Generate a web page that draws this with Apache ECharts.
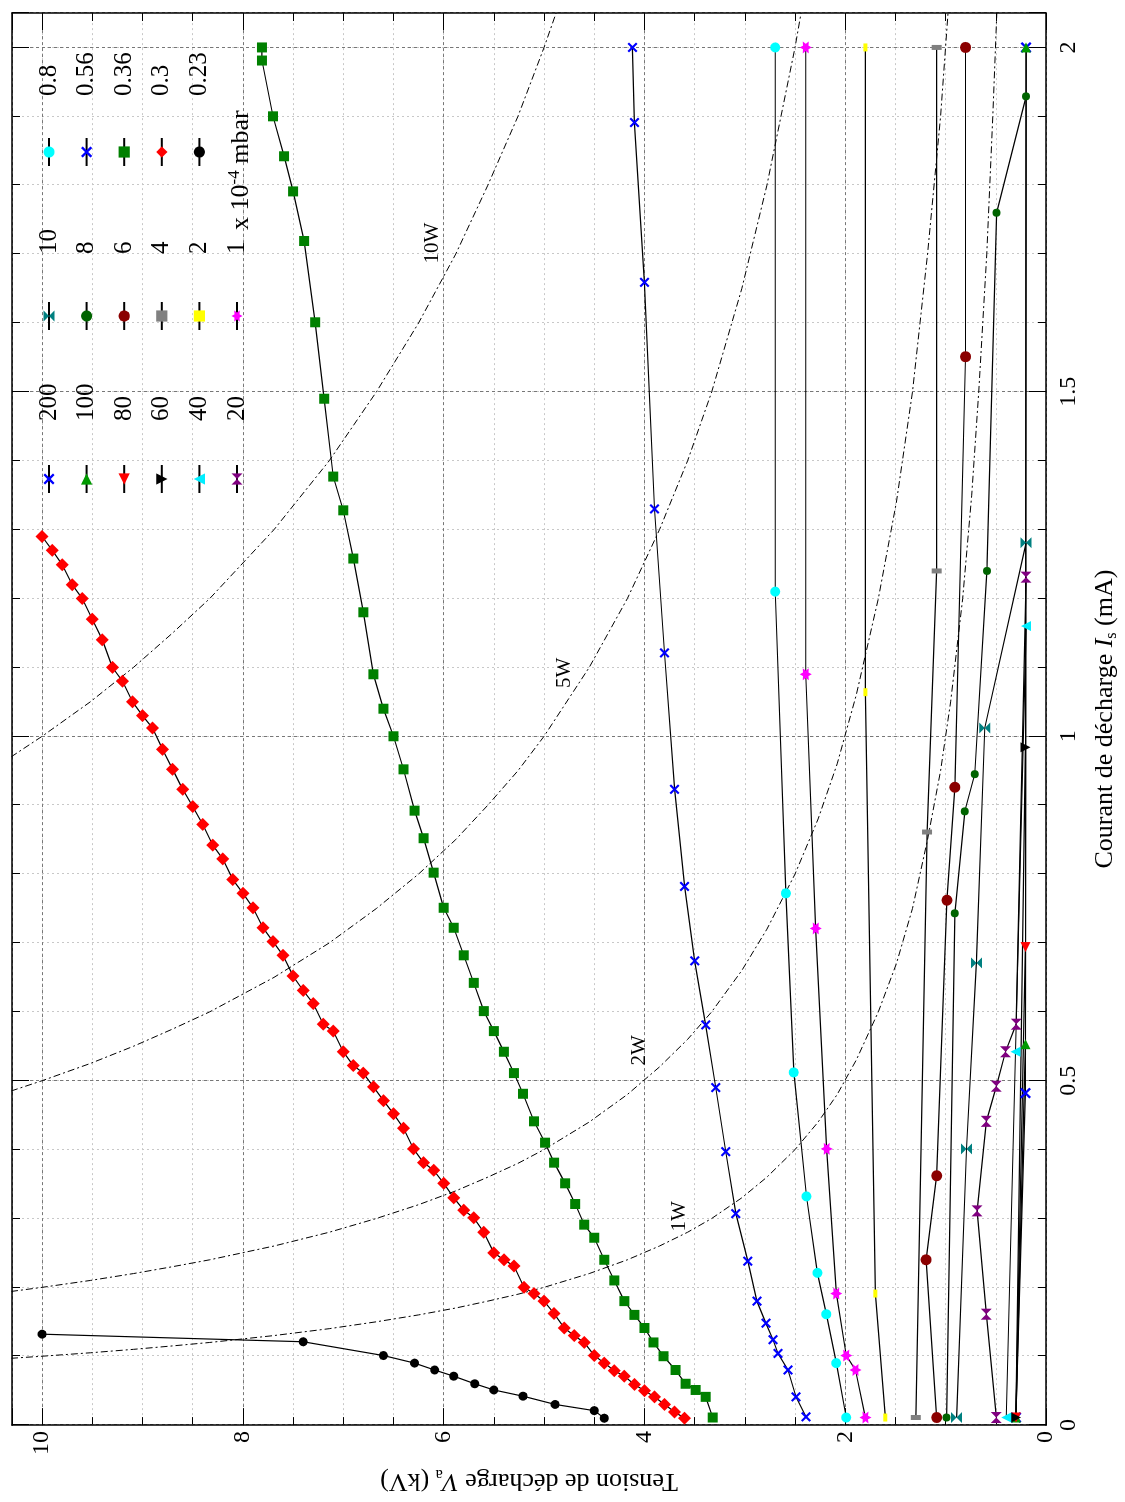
<!DOCTYPE html>
<html><head><meta charset="utf-8">
<script src="https://cdn.jsdelivr.net/npm/echarts@6/dist/echarts.min.js"></script>
<style>
html,body{margin:0;padding:0;width:1125px;height:1502px;overflow:hidden;background:#fff;}
#chart{position:absolute;left:0;top:0;width:1502px;height:1125px;transform-origin:0 0;transform:translateY(1502px) rotate(-90deg);background:#fff;}
</style></head><body><div id="chart"></div>
<script>
// ---- data: [current I (mA), voltage V (kV)] ----
const p200 = [[0.011,0.30],[0.482,0.205],[2.0,0.198]];
const p100 = [[0.011,0.30],[0.553,0.205],[2.0,0.198]];
const p80  = [[0.011,0.30],[0.694,0.205]];
const p60  = [[0.011,0.30],[0.984,0.205]];
const p40  = [[0.011,0.396],[0.542,0.304],[1.160,0.198]];
const p20  = [[0.011,0.495],[0.161,0.594],[0.311,0.687],[0.441,0.594],[0.492,0.495],[0.542,0.403],[0.582,0.297],[1.231,0.198]];
const p10  = [[0.011,0.891],[0.401,0.792],[0.671,0.693],[1.012,0.61],[1.281,0.198]];
const p8   = [[0.011,0.990],[0.743,0.908],[0.891,0.809],[0.945,0.71],[1.240,0.588],[1.760,0.492],[1.929,0.198]];
const p6   = [[0.011,1.089],[0.240,1.195],[0.362,1.089],[0.762,0.987],[0.926,0.908],[1.551,0.802],[2.0,0.802]];
const p4   = [[0.011,1.297],[0.861,1.185],[1.240,1.089],[2.0,1.089]];
const p2   = [[0.011,1.601],[0.191,1.700],[1.064,1.799],[2.0,1.799]];
const p1   = [[0.011,1.799],[0.080,1.898],[0.101,1.990],[0.191,2.089],[0.401,2.185],[0.721,2.294],[1.090,2.393],[2.0,2.393]];
const p08  = [[0.011,1.990],[0.090,2.089],[0.161,2.188],[0.221,2.277],[0.332,2.386],[0.512,2.512],[0.772,2.591],[1.210,2.697],[2.0,2.697]];
const p056 = [[0.012,2.39],[0.041,2.49],[0.080,2.57],[0.104,2.67],[0.124,2.72],[0.148,2.79],[0.180,2.88],[0.238,2.97],[0.307,3.09],[0.397,3.19],[0.490,3.29],[0.581,3.39],[0.674,3.50],[0.782,3.60],[0.923,3.70],[1.121,3.80],[1.330,3.90],[1.659,4.00],[1.891,4.10],[2.000,4.12]];
const p036 = [[0.011,3.32],[0.041,3.39],[0.051,3.49],[0.060,3.59],[0.080,3.69],[0.100,3.81],[0.120,3.91],[0.141,4.00],[0.160,4.10],[0.180,4.20],[0.210,4.30],[0.240,4.40],[0.272,4.50],[0.291,4.60],[0.321,4.69],[0.351,4.79],[0.381,4.90],[0.410,4.99],[0.441,5.10],[0.481,5.21],[0.511,5.30],[0.542,5.40],[0.572,5.50],[0.601,5.60],[0.642,5.70],[0.682,5.80],[0.722,5.90],[0.751,6.00],[0.802,6.10],[0.852,6.20],[0.892,6.29],[0.952,6.40],[1.000,6.50],[1.040,6.60],[1.090,6.70],[1.180,6.80],[1.258,6.90],[1.328,7.00],[1.377,7.10],[1.490,7.19],[1.601,7.28],[1.719,7.39],[1.791,7.50],[1.842,7.59],[1.900,7.70],[1.981,7.81],[2.000,7.81]];
const p03  = [[0.010,3.6],[0.019,3.7],[0.030,3.8],[0.041,3.9],[0.050,4.0],[0.059,4.1],[0.071,4.2],[0.079,4.3],[0.090,4.4],[0.101,4.5],[0.120,4.6],[0.130,4.7],[0.141,4.8],[0.162,4.9],[0.180,5.0],[0.191,5.1],[0.200,5.2],[0.231,5.3],[0.240,5.4],[0.250,5.5],[0.280,5.6],[0.301,5.7],[0.312,5.8],[0.330,5.9],[0.351,6.0],[0.370,6.1],[0.381,6.2],[0.401,6.3],[0.431,6.4],[0.452,6.5],[0.471,6.6],[0.491,6.7],[0.511,6.8],[0.522,6.9],[0.542,7.0],[0.572,7.1],[0.582,7.2],[0.612,7.3],[0.631,7.4],[0.652,7.5],[0.682,7.6],[0.702,7.7],[0.722,7.8],[0.751,7.9],[0.772,8.0],[0.792,8.1],[0.822,8.2],[0.842,8.3],[0.872,8.4],[0.898,8.5],[0.923,8.6],[0.952,8.7],[0.981,8.8],[1.012,8.9],[1.030,9.0],[1.050,9.1],[1.080,9.2],[1.100,9.3],[1.140,9.4],[1.170,9.5],[1.200,9.6],[1.220,9.7],[1.249,9.8],[1.270,9.9],[1.290,10.0]];
const p023 = [[0.010,4.40],[0.021,4.50],[0.030,4.89],[0.042,5.21],[0.051,5.50],[0.060,5.69],[0.071,5.90],[0.080,6.09],[0.090,6.29],[0.101,6.60],[0.121,7.40],[0.132,10.0]];
// constant-power reference curves
const w1  = [[0.097,10.31],[0.1,10],[0.105,9.52],[0.11,9.09],[0.115,8.70],[0.12,8.33],[0.13,7.69],[0.14,7.14],[0.15,6.67],[0.16,6.25],[0.17,5.88],[0.18,5.56],[0.19,5.26],[0.2,5],[0.22,4.55],[0.24,4.17],[0.26,3.85],[0.28,3.57],[0.3,3.33],[0.33,3.03],[0.36,2.78],[0.4,2.5],[0.44,2.27],[0.48,2.08],[0.53,1.89],[0.6,1.67],[0.67,1.49],[0.75,1.33],[0.85,1.18],[0.95,1.05],[1.05,0.95],[1.2,0.83],[1.35,0.74],[1.5,0.67],[1.7,0.59],[1.9,0.53],[2.05,0.49]];
const w2  = [[0.194,10.31],[0.2,10],[0.21,9.52],[0.22,9.09],[0.23,8.70],[0.24,8.33],[0.26,7.69],[0.28,7.14],[0.3,6.67],[0.32,6.25],[0.34,5.88],[0.36,5.56],[0.38,5.26],[0.4,5],[0.44,4.55],[0.48,4.17],[0.52,3.85],[0.56,3.57],[0.6,3.33],[0.66,3.03],[0.72,2.78],[0.8,2.5],[0.88,2.27],[0.96,2.08],[1.06,1.89],[1.2,1.67],[1.34,1.49],[1.5,1.33],[1.7,1.18],[1.9,1.05],[2.05,0.976]];
const w5  = [[0.485,10.31],[0.5,10],[0.525,9.52],[0.55,9.09],[0.575,8.70],[0.6,8.33],[0.65,7.69],[0.7,7.14],[0.75,6.67],[0.8,6.25],[0.85,5.88],[0.9,5.56],[0.95,5.26],[1.0,5],[1.1,4.55],[1.2,4.17],[1.3,3.85],[1.4,3.57],[1.5,3.33],[1.65,3.03],[1.8,2.78],[2.0,2.5],[2.05,2.44]];
const w10 = [[0.970,10.31],[1.0,10],[1.05,9.52],[1.1,9.09],[1.15,8.70],[1.2,8.33],[1.3,7.69],[1.4,7.14],[1.5,6.67],[1.6,6.25],[1.7,5.88],[1.8,5.56],[1.9,5.26],[2.0,5.0],[2.05,4.88]];
const powerNames = ['1W','2W','5W','10W'];
const powerLabelAt = [[0.303,3.65],[0.544,4.05],[1.092,4.80],[1.716,6.11]];
const currentLabels = ['0','0.5','1','1.5','2'];
const voltageLabels = ['0','2','4','6','8','10'];
const legendCol1 = ['200','100','80','60','40','20'];
const legendCol2 = ['10','8','6','4','2','1'];
const legendCol3 = ['0.8','0.56','0.36','0.3','0.23'];

const FONT = 'Liberation Serif';
const XSTAR = 'path://M0,1.5 L1.5,0 L5,3.5 L8.5,0 L10,1.5 L6.5,5 L10,8.5 L8.5,10 L5,6.5 L1.5,10 L0,8.5 L3.5,5 Z';
const HOURGLASS = 'path://M0,0 L10,0 L0,10 L10,10 Z';
const BOWTIE = 'path://M0,0 L0,10 L10,0 L10,10 Z';
const HEXSTAR = 'path://M5,0 L6.3,2.75 L9.33,2.5 L7.6,5 L9.33,7.5 L6.3,7.25 L5,10 L3.7,7.25 L0.67,7.5 L2.4,5 L0.67,2.5 L3.7,2.75 Z';

function mk(name, data, color, symbol, size, rot) {
  return {name, type:'line', data, xAxisIndex:0, yAxisIndex:0, symbol, symbolSize:size, symbolRotate:rot||0,
    lineStyle:{color:'#000', width:1.2}, itemStyle:{color}, emphasis:{disabled:true}, z:3};
}
const series = [
  mk('200', p200, '#0000ff', XSTAR, 11),
  mk('100', p100, '#009900', 'triangle', 10, -90),
  mk('80',  p80,  '#ff0000', 'triangle', 10, 90),
  mk('60',  p60,  '#000000', 'triangle', 10, 180),
  mk('40',  p40,  '#00eeff', 'triangle', 10, 0),
  mk('20',  p20,  '#800080', BOWTIE, 11),
  mk('10',  p10,  '#008080', HOURGLASS, 11),
  mk('8',   p8,   '#006400', 'circle', 8),
  mk('6',   p6,   '#8b0000', 'circle', 11),
  mk('4',   p4,   '#808080', 'rect', [5,10]),
  mk('2',   p2,   '#ffff00', 'rect', [8,4]),
  mk('1',   p1,   '#ff00ff', HEXSTAR, 12),
  mk('0.8', p08,  '#00ffff', 'circle', 10),
  mk('0.56',p056, '#0000ff', XSTAR, 10),
  mk('0.36',p036, '#008000', 'rect', 10),
  mk('0.3', p03,  '#ff0000', 'diamond', [13,13]),
  mk('0.23',p023, '#000000', 'circle', 9)
];
[w1,w2,w5,w10].forEach((d,i)=>{
  series.push({name:powerNames[i], type:'line', data:d, symbol:'none',
    lineStyle:{color:'#000', width:1, type:[7,3,2,3]}, emphasis:{disabled:true}, z:2, silent:true,
    markPoint:{symbol:'circle', symbolSize:1, itemStyle:{color:'rgba(0,0,0,0)'},
      label:{show:true, position:'inside', formatter:powerNames[i], color:'#000', fontFamily:FONT, fontSize:21},
      data:[{coord:powerLabelAt[i]}]}
  });
});

const tickStyle = {color:'#000', width:1};
function axisSet(kind) {
  const isX = kind === 'x';
  const max = isX ? 2.05 : 10.3;
  const majI = isX ? 0.5 : 2;
  const minI = isX ? 0.1 : 0.5;
  const labels = isX ? currentLabels : voltageLabels;
  const posA = isX ? 'bottom' : 'left', posB = isX ? 'top' : 'right';
  const major = {
    type:'value', position:posA, min:0, max, interval:majI, z:1,
    axisLine:{show:true, onZero:false, lineStyle:{color:'#000', width:1.5}},
    axisTick:{show:true, inside:true, length:17, lineStyle:tickStyle},
    axisLabel:{show:true, margin: isX ? 11 : 6, color:'#000', fontFamily:FONT, fontSize:24,
      formatter:v=>{const s=String(Math.round(v*1000)/1000); return labels.includes(s)?s:'';}},
    splitLine:{show:true, lineStyle:{color:'#777', width:1, type:[3,3]}},
    name: isX ? '{n|Courant de décharge }{i|I}{sub|s}{n| (mA)}' : '{n|Tension de décharge }{i|V}{sub|a}{n| (kV)}',
    nameLocation:'middle', nameGap: isX ? 44 : 36, nameRotate: isX ? 0 : 90,
    nameTextStyle:{color:'#000', fontFamily:FONT, rich:{
      n:{fontFamily:FONT, fontSize:26, lineHeight:30, color:'#000'},
      i:{fontFamily:FONT, fontSize:26, lineHeight:30, fontStyle:'italic', color:'#000'},
      sub:{fontFamily:FONT, fontSize:16, lineHeight:16, verticalAlign:'bottom', color:'#000'}}}
  };
  const minor = {
    type:'value', position:posA, min:0, max, interval:minI, z:0,
    axisLine:{show:false, onZero:false}, axisLabel:{show:false},
    axisTick:{show:true, inside:true, length:8, lineStyle:tickStyle},
    splitLine:{show:true, lineStyle:{color:'#c8c8c8', width:1, type:[2,3]}}
  };
  const majorB = {type:'value', position:posB, min:0, max, interval:majI, z:1,
    axisLine:{show:true, onZero:false, lineStyle:{color:'#000', width:1.5}},
    axisTick:{show:true, inside:true, length:17, lineStyle:tickStyle},
    axisLabel:{show:false}, splitLine:{show:false}};
  const minorB = {type:'value', position:posB, min:0, max, interval:minI, z:0,
    axisLine:{show:false, onZero:false}, axisLabel:{show:false},
    axisTick:{show:true, inside:true, length:8, lineStyle:tickStyle}, splitLine:{show:false}};
  return [major, minor, majorB, minorB];
}

const legendCommon = {orient:'vertical', itemWidth:28, itemHeight:14, itemGap:9.6, top:30, selectedMode:false,
  inactiveColor:'#000'};
function lg(data, left, pad) {
  return Object.assign({}, legendCommon, {data, left,
    textStyle:{fontFamily:FONT, fontSize:25, color:'#000', lineHeight:28, padding:[0,0,0,pad]}});
}

const chart = echarts.init(document.getElementById('chart'), null, {renderer:'canvas'});
chart.setOption({
  animation:false,
  backgroundColor:'#fff',
  grid:{left:67, right:13, top:12, bottom:73, containLabel:false},
  xAxis: axisSet('x'),
  yAxis: axisSet('y'),
  legend:[lg(legendCol1, 1003, 39), lg(legendCol2, 1166, 43), lg(legendCol3, 1330, 37)],
  graphic:[{type:'text', left:1272, top:226, z:10, silent:true,
    style:{text:'{a|x 10}{s|-4}{a| mbar}', fill:'#000', rich:{
      a:{fontFamily:FONT, fontSize:26, lineHeight:30, fill:'#000'},
      s:{fontFamily:FONT, fontSize:17, lineHeight:17, verticalAlign:'top', fill:'#000'}}}}],
  series
});
</script></body></html>
